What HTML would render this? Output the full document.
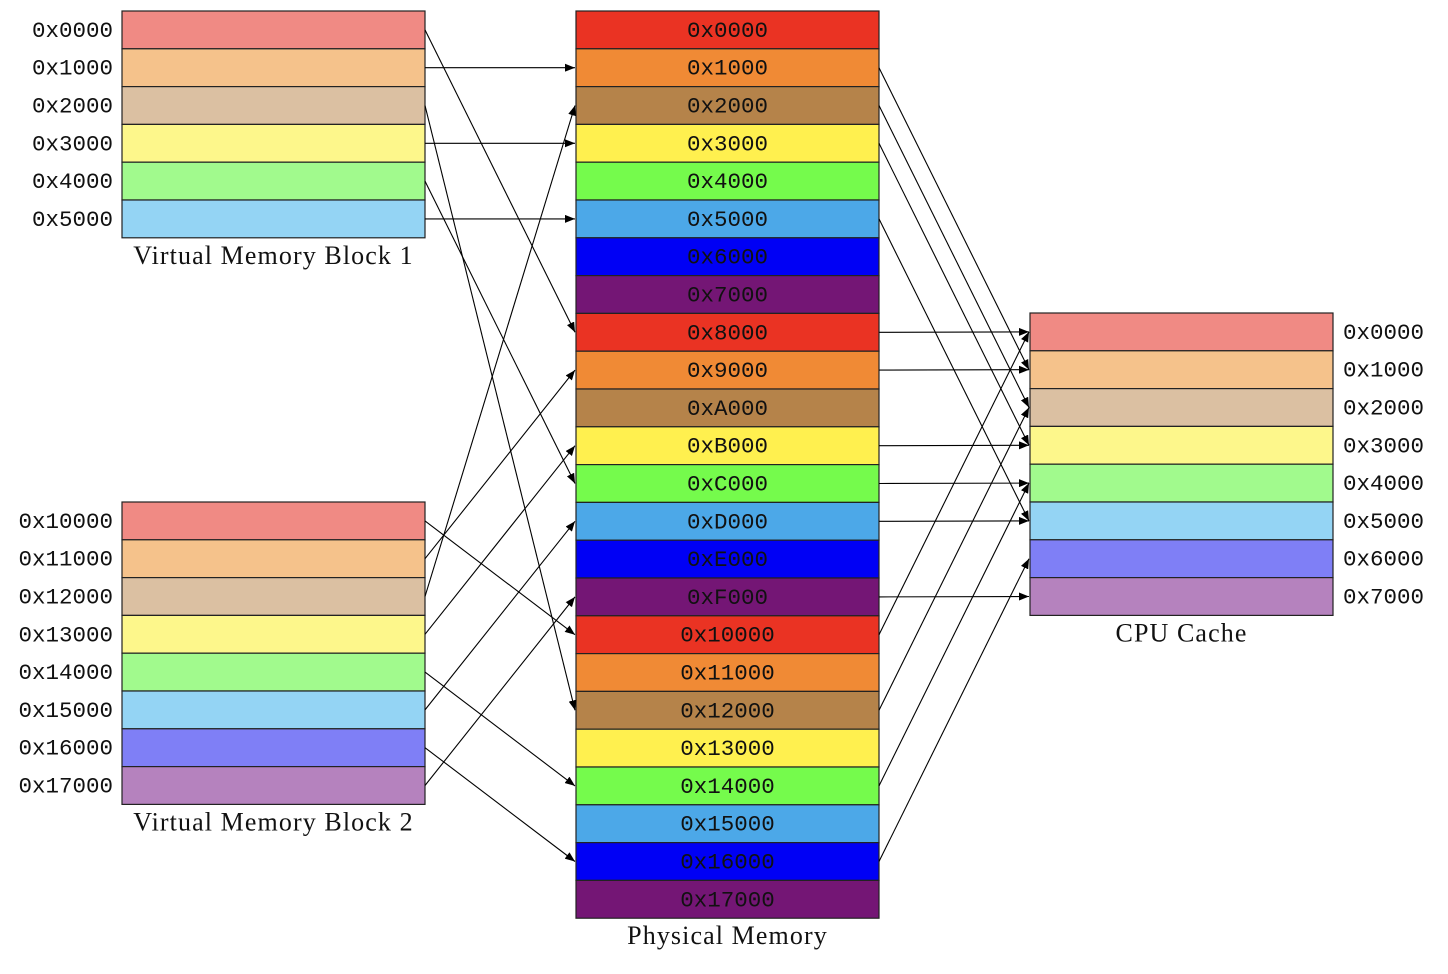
<!DOCTYPE html>
<html><head><meta charset="utf-8">
<style>
html,body{margin:0;padding:0;background:#fff;width:1448px;height:974px;overflow:hidden}
svg{display:block}
.mono{font-family:"Liberation Mono",monospace;font-size:22.5px}
.serif{font-family:"Liberation Serif",serif;font-size:26px;letter-spacing:1.1px}
</style></head>
<body>
<svg id="diagram" width="1448" height="974" xmlns="http://www.w3.org/2000/svg">
<defs>
<marker id="ah" markerWidth="10" markerHeight="8" refX="10" refY="4" orient="auto" markerUnits="userSpaceOnUse">
<path d="M0,0 L10,4 L0,8 Z" fill="#000"/>
</marker>
</defs>
<g id="boxes"></g>
<g id="arrows"></g>
</svg>
<script>
const strong=['#EA3323','#F08A35','#B5834A','#FFF04F','#75FB4C','#4CA8E8','#0000F5','#741675'];
const light=['#F08A84','#F5C28B','#DBC0A2','#FDF78B','#A1FA8D','#94D4F4','#7F7FF6','#B582BE'];
const vm1Labels=['0x0000','0x1000','0x2000','0x3000','0x4000','0x5000'];
const vm2Labels=['0x10000','0x11000','0x12000','0x13000','0x14000','0x15000','0x16000','0x17000'];
const physLabels=['0x0000','0x1000','0x2000','0x3000','0x4000','0x5000','0x6000','0x7000','0x8000','0x9000','0xA000','0xB000','0xC000','0xD000','0xE000','0xF000','0x10000','0x11000','0x12000','0x13000','0x14000','0x15000','0x16000','0x17000'];
const cacheLabels=['0x0000','0x1000','0x2000','0x3000','0x4000','0x5000','0x6000','0x7000'];
// mappings: source row -> target row
const vm1Map=[8,1,18,3,12,5];
const vm2Map=[16,9,2,11,20,13,22,15];
const physSrc=[1,2,3,5,8,9,11,12,13,15,16,18,20,22];
const physToCache=[1,2,3,5,0,1,3,4,5,7,0,2,4,6];

const NS='http://www.w3.org/2000/svg';
const RH=37.8, W=303;
const blocks={vm1:{x:122,y:11},vm2:{x:122,y:502},phys:{x:576,y:11},cache:{x:1030,y:313}};
const gB=document.getElementById('boxes'), gA=document.getElementById('arrows');
function el(tag,attrs,parent,text){const e=document.createElementNS(NS,tag);for(const k in attrs)e.setAttribute(k,attrs[k]);if(text!==undefined)e.textContent=text;parent.appendChild(e);return e;}
function rowY(b,i){return blocks[b].y+i*RH;}
function rowC(b,i){return rowY(b,i)+RH/2;}

function drawBlock(key,labels,colors,labelSide,title,nameBase){
  const g=el('g',{},gB);
  
  
  const b=blocks[key];
  labels.forEach((lab,i)=>{
    const r=el('rect',{x:b.x,y:rowY(key,i),width:W,height:RH,fill:colors[i%8],stroke:'#222','stroke-width':1.2},g);
    
    
    let t;
    if(labelSide==='left') t=el('text',{x:b.x-9,y:rowC(key,i)+7,'text-anchor':'end',class:'mono',fill:'#111'},g,lab);
    else if(labelSide==='right') t=el('text',{x:b.x+W+10,y:rowC(key,i)+7,'text-anchor':'start',class:'mono',fill:'#111'},g,lab);
    else t=el('text',{x:b.x+W/2,y:rowC(key,i)+7,'text-anchor':'middle',class:'mono',fill:'#111'},g,lab);
    
    
  });
  const tt=el('text',{x:b.x+W/2,y:b.y+labels.length*RH+26,'text-anchor':'middle',class:'serif',fill:'#111'},g,title);
  
  
}
drawBlock('vm1',vm1Labels,light,'left','Virtual Memory Block 1','virtual-memory-1');
drawBlock('vm2',vm2Labels,light,'left','Virtual Memory Block 2','virtual-memory-2');
drawBlock('phys',physLabels,strong,'center','Physical Memory','physical-memory');
drawBlock('cache',cacheLabels,light,'right','CPU Cache','cpu-cache');

function arrow(x1,y1,x2,y2,name){
  const l=el('line',{x1:x1,y1:y1,x2:x2,y2:y2,stroke:'#000','stroke-width':1.1,'marker-end':'url(#ah)'},gA);
  
  
}
vm1Map.forEach((t,i)=>arrow(blocks.vm1.x+W,rowC('vm1',i),blocks.phys.x-1,rowC('phys',t),'arrow-vm1-'+vm1Labels[i]));
vm2Map.forEach((t,i)=>arrow(blocks.vm2.x+W,rowC('vm2',i),blocks.phys.x-1,rowC('phys',t),'arrow-vm2-'+vm2Labels[i]));
physSrc.forEach((s,k)=>arrow(blocks.phys.x+W,rowC('phys',s),blocks.cache.x-1,rowC('cache',physToCache[k]),'arrow-phys-'+physLabels[s]));
</script>
</body></html>
